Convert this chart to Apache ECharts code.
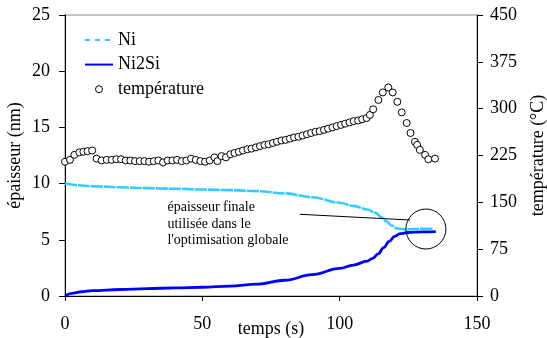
<!DOCTYPE html>
<html>
<head>
<meta charset="utf-8">
<script src="https://cdn.jsdelivr.net/npm/echarts@6/dist/echarts.min.js"></script>
<style>html,body{margin:0;padding:0;background:#fff}#main{width:547px;height:338px}</style>
</head>
<body>
<div id="main"></div>
<script>
// épaisseurs (nm)
var niTime = [0, 5, 10, 20, 30, 40, 50, 60, 70, 80, 90, 100, 105, 110, 113, 115, 117, 119, 121, 124, 127, 130, 134];
var niVal = [10.0, 9.85, 9.76, 9.67, 9.6, 9.54, 9.47, 9.42, 9.33, 9.13, 8.78, 8.3, 8.02, 7.7, 7.4, 7.05, 6.65, 6.25, 6.0, 5.92, 5.95, 5.98, 5.97];

var ni2siTime = [0, 3, 6, 10, 20, 30, 40, 50, 60, 70, 80, 90, 100, 105, 110, 112, 114, 116, 118, 120, 122, 125, 130, 135];
var ni2siVal = [0.03, 0.25, 0.38, 0.48, 0.58, 0.66, 0.72, 0.78, 0.88, 1.05, 1.4, 1.9, 2.45, 2.75, 3.1, 3.35, 3.75, 4.3, 4.85, 5.3, 5.55, 5.65, 5.7, 5.72];

// température (°C)
var tempTime = [0, 1.8, 3.4, 5.2, 6.7, 8.2, 9.9, 11.5, 13.3, 15.2, 17.0, 18.7, 20.4, 22.1, 23.8, 25.5, 27.2, 28.9, 30.6, 32.3,
	34.0, 35.7, 37.4, 39.1, 40.8, 42.5, 44.2, 45.9, 47.6, 49.3, 51.0, 52.7, 54.4, 55.5, 57, 58.6, 60.2, 61.7, 63.3, 64.8,
	66.4, 67.9, 69.5, 71, 72.6, 74.1, 75.7, 77.2, 78.8, 80.3, 81.9, 83.4, 85, 86.5, 88.1, 89.6, 91.2, 92.7, 94.3, 95.8,
	97.4, 98.9, 100.5, 102, 103.6, 105.1, 106.7, 108.2, 109.8, 111, 112.2, 114.1, 115.7, 117.7, 119.3, 121.0, 122.6, 124.4,
	125.8, 127.4, 128.2, 129.2, 131.1, 132.3, 134.7];
var tempVal = [215, 218, 226, 230, 231, 232, 233, 220, 217, 218, 218, 219, 219, 217, 217, 216, 216, 216, 215, 216,
	217, 214, 217, 217, 218, 216, 217, 220, 218, 216, 215, 217, 222, 216, 224, 222, 227, 229, 231, 233,
	235, 236, 238, 240, 242, 243, 245, 247, 249, 250, 252, 254, 255, 257, 259, 261, 263, 264, 266, 268,
	270, 272, 274, 276, 278, 280, 281, 283, 285, 290, 299, 314, 326, 334, 326, 311, 294, 277,
	261, 247, 242, 234, 226, 219, 220];

// graduations
var xTicks = [0, 50, 100, 150];
var yTicks = [0, 5, 10, 15, 20, 25];
var tTicks = [0, 75, 150, 225, 300, 375, 450];

var note = "épaisseur finale\nutilisée dans le\nl'optimisation globale";

function pairs(xs, ys) {
	return xs.map(function (x, i) { return [x, ys[i]]; });
}

var serif = 'Liberation Serif';
var font18 = "18px 'Liberation Serif', serif";

var myChart = echarts.init(document.getElementById('main'));

myChart.setOption({
	animation : false,
	textStyle : { fontFamily : serif },
	grid : {
		left : 65, right : 70, top : 15, bottom : 42,
		containLabel : false,
		outerBoundsMode : 'none',
		show : true, borderColor : '#888', borderWidth : 1
	},
	legend : {
		orient : 'vertical',
		left : 84,
		top : 31,
		padding : 0,
		itemWidth : 28,
		itemHeight : 7,
		itemGap : 6.6,
		textStyle : { fontFamily : serif, fontSize : 18, color : '#000', lineHeight : 16 },
		data : [
			{ name : 'Ni', itemStyle : { opacity : 0 }, lineStyle : { type : [5, 5] } },
			{ name : 'Ni2Si', itemStyle : { opacity : 0 } },
			{ name : 'température', itemStyle : { borderWidth : 1 } }
		]
	},
	xAxis : {
		type : 'value',
		min : 0, max : 150, interval : 50,
		axisLine : { lineStyle : { color : '#000', width : 1 } },
		axisTick : { length : 5, lineStyle : { color : '#000' } },
		axisLabel : { show : false },
		splitLine : { show : false }
	},
	yAxis : [ {
		type : 'value',
		min : 0, max : 25, interval : 5,
		axisLine : { show : true, lineStyle : { color : '#000', width : 1 } },
		axisTick : { show : true, length : 6, lineStyle : { color : '#000' } },
		axisLabel : { show : false },
		splitLine : { show : false }
	}, {
		type : 'value',
		position : 'right',
		min : 0, max : 450, interval : 75,
		axisLine : { show : true, lineStyle : { color : '#000', width : 1 } },
		axisTick : { show : true, length : 6, lineStyle : { color : '#000' } },
		axisLabel : { show : false },
		splitLine : { show : false }
	} ],
	series : [ {
		name : 'Ni',
		type : 'line',
		data : pairs(niTime, niVal),
		smooth : 0.4,
		smoothMonotone : 'x',
		showSymbol : false,
		symbol : 'none',
		lineStyle : { color : '#33CCFF', width : 2.6, type : [12, 1] },
		itemStyle : { color : '#33CCFF' },
		z : 3
	}, {
		name : 'Ni2Si',
		type : 'line',
		data : pairs(ni2siTime, ni2siVal),
		smooth : 0.4,
		smoothMonotone : 'x',
		showSymbol : false,
		symbol : 'none',
		lineStyle : { color : '#0000FF', width : 2.8 },
		itemStyle : { color : '#0000FF' },
		z : 2
	}, {
		name : 'température',
		type : 'scatter',
		yAxisIndex : 1,
		data : pairs(tempTime, tempVal),
		symbol : 'circle',
		symbolSize : 7,
		itemStyle : { color : '#fff', borderColor : '#000', borderWidth : 1, opacity : 1 },
		z : 4
	} ]
});

// libellés des axes (texte en police serif), placés via les échelles
function text(x, y, str, align, vAlign, rot) {
	return {
		type : 'text', x : x, y : y, rotation : rot || 0,
		style : { text : str, font : font18, fill : '#000', align : align, verticalAlign : vAlign },
		z : 10
	};
}

var g = [];
var x0 = myChart.convertToPixel({ xAxisIndex : 0 }, 0);
var x1 = myChart.convertToPixel({ xAxisIndex : 0 }, 150);
var yBot = myChart.convertToPixel({ yAxisIndex : 0 }, 0);
var yTop = myChart.convertToPixel({ yAxisIndex : 0 }, 25);

xTicks.forEach(function (v) {
	g.push(text(myChart.convertToPixel({ xAxisIndex : 0 }, v), yBot + 28, String(v), 'center', 'middle'));
});
yTicks.forEach(function (v) {
	g.push(text(x0 - 15, myChart.convertToPixel({ yAxisIndex : 0 }, v), String(v), 'right', 'middle'));
});
tTicks.forEach(function (v) {
	g.push(text(x1 + 13, myChart.convertToPixel({ yAxisIndex : 1 }, v), String(v), 'left', 'middle'));
});
g.push(text((x0 + x1) / 2, yBot + 33, 'temps (s)', 'center', 'middle'));
g.push(text(x0 - 50, (yBot + yTop) / 2, 'épaisseur (nm)', 'center', 'middle', Math.PI / 2));
g.push(text(x1 + 61, (yBot + yTop) / 2, 'température (°C)', 'center', 'middle', Math.PI / 2));

// annotation : texte, trait et cercle autour des épaisseurs finales
var circ = myChart.convertToPixel({ gridIndex : 0 }, [131.4, 5.96]);
var p1 = myChart.convertToPixel({ gridIndex : 0 }, [85.5, 7.27]);
var p2 = myChart.convertToPixel({ gridIndex : 0 }, [125.6, 6.76]);
var txt = myChart.convertToPixel({ gridIndex : 0 }, [37.3, 8.6]);

g.push({
	type : 'text',
	x : txt[0], y : txt[1],
	style : { text : note, font : "14px 'Liberation Serif', serif", fill : '#000', lineHeight : 16.5 },
	z : 10
});
g.push({
	type : 'line',
	shape : { x1 : p1[0], y1 : p1[1], x2 : p2[0], y2 : p2[1] },
	style : { stroke : '#000', lineWidth : 1 },
	z : 10
});
g.push({
	type : 'circle',
	shape : { cx : circ[0], cy : circ[1], r : 20 },
	style : { stroke : '#000', fill : 'none', lineWidth : 1 },
	z : 10
});

myChart.setOption({ graphic : g });
</script>
</body>
</html>
